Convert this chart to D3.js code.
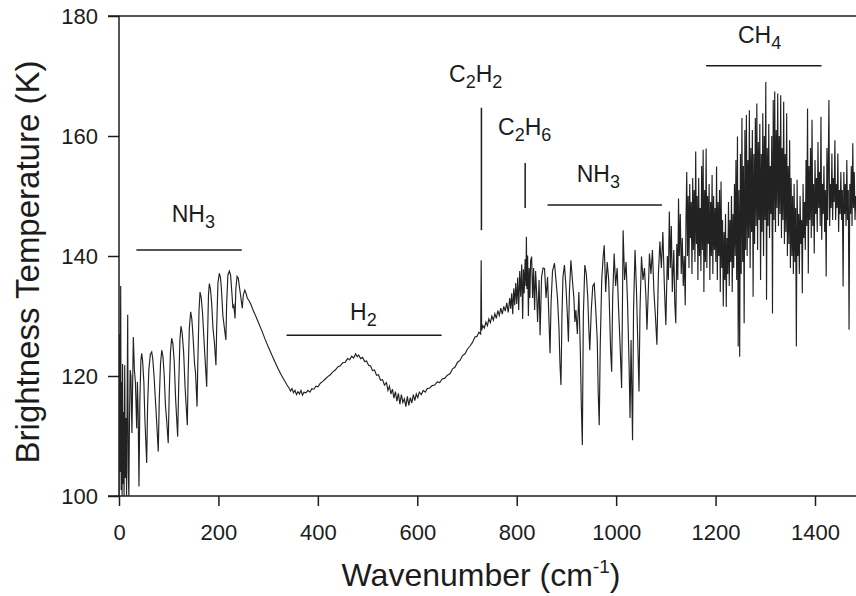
<!DOCTYPE html>
<html>
<head>
<meta charset="utf-8">
<script src="https://cdn.jsdelivr.net/npm/d3@7"></script>
<style>
html, body { margin: 0; padding: 0; background: #fff; }
svg { display: block; }
text { font-family: "Liberation Sans", Arial, Helvetica, sans-serif; fill: #1c1c1c; }
</style>
</head>
<body>
<div id="chart"></div>
<script>
(function() {
    "use strict";

    // [wavenumber cm-1, brightness temperature K]
    var rotationalNH3 = [
        [0,100],[1,127],[2,104],[3.4,135],[4.4,101],[5.3,119],[6.2,100],[7.2,122],[8.2,102],[9.2,114],
        [10.2,100],[11.5,121.8],[12.8,103],[14,113],[15.2,100],[16.5,118],[17.5,130.2],[18.6,104],[19.8,100],
        [21,112],[22.5,121],[24,120],[26,110.5],[28.8,126.5],[31,121],[33,119],[35.6,111.3],[37,119],[38.5,114],
        [40.2,101.6],[42,116],[44,122.5],[45.7,123.8],[47.5,122.5],[50,119],[52,113],[55.7,105.5],[57.5,115],
        [60,121],[63,123.6],[65.8,124],[68,122.8],[70.5,120],[72.5,117],[75,113.5],[79,107.4],[81,116],
        [83.5,122],[86,124.3],[88.5,123.2],[91,120],[93.5,115],[96,112.5],[99,108.8],[101,117],[103.5,124],
        [106,126.3],[108.5,125.3],[111,122.5],[114,116],[118,109.9],[120,118],[122.5,126],[124.7,128.3],
        [127,127.2],[130,124],[133,118],[137.4,111.8],[139,120],[141.5,128],[144.2,130.7],[146.5,129.5],
        [149,126.5],[152,122],[154,120.5],[157,114.9],[158.5,122],[161,131],[163,134],[165.5,133],[168,130.5],
        [171,126],[173,123],[176.4,118.2],[178,126],[180,133.5],[181.7,135.4],[184,134.5],[186.5,132],
        [189,128],[192,125.5],[195,121.8],[196.5,128],[199,135.5],[201.8,137.1],[204,136.5],[206,134.5],
        [209,130],[212,128],[215,126],[216.5,132],[219,136.8],[222,137.5],[224.5,136.8],[226.5,134.5],
        [229,131.5],[231,131.8],[233.4,129.6],[235,134.5],[237.5,136.6],[240,136.3],[242,135],[244.5,133.5],
        [246,132.5],[248,131.3],[250,133.5],[253,134.3],[255.5,133.8],[258,133]
    ];

    var h2Continuum = [
        [262,132.5],[266,131.8],[270,130.9],[275,130.0],[280,129.0],[287,127.6],[294,126.1],[300,124.9],
        [307,123.6],[314,122.3],[320,121.2],[327,120.1],[333,119.2],[338,118.5],[342,118.0],[345,117.5],
        [348,117.9],[351,117.2],[354,117.6],[357,116.9],[360,117.4],[363,117.0],[366,117.6],[369,116.8],
        [372,117.3],[376,117.2],[380,117.6],[384,117.3],[388,117.9],[392,117.8],[396,118.3],[400,118.2],
        [405,118.8],[410,119.1],[415,119.5],[420,119.9],[425,120.2],[430,120.7],[435,121.0],[440,121.5],
        [445,121.7],[450,122.2],[455,122.3],[460,122.9],[464,122.7],[468,123.3],[472,123.0],[476,123.7],
        [479,123.2],[482,123.5],[486,122.9],[490,123.1],[494,122.4],[498,122.5],[502,121.8],[506,121.7],
        [510,120.9],[514,121.0],[518,120.1],[522,120.2],[526,119.3],[530,119.4],[534,118.5],[538,118.9],
        [541,117.6],[544,118.3],[547,117.0],[550,117.8],[553,116.3],[556,117.4],[559,115.8],[562,117.1],
        [565,115.3],[568,116.9],[571,115.6],[574,116.2],[577,114.9],[580,116.6],[583,115.1],[586,116.4],
        [589,115.5],[592,116.9],[595,115.9],[598,117.0],[601,116.4],[604,117.3],[608,116.9],[612,117.6],
        [616,117.3],[620,117.9],[625,118.0],[630,118.4],[635,118.5],[640,119.0],[645,118.9],[650,119.5],
        [655,119.6],[660,120.1],[666,120.4],[671,121.2],[676,121.5],[681,122.3],[686,122.6],[691,123.4],
        [696,123.7],[701,124.5],[706,125.0],[711,125.6],[716,126.5],[720,126.6],[724,127.3],[727.5,127.0]
    ];

    var hydrocarbons = [
        [728.5,139.3],[729.5,127.6],[732,128.4],[735,128.0],[738,129.0],[741,128.4],[744,129.5],[747,128.9],
        [750,130.0],[753,129.3],[756,130.4],[759,129.6],[762,130.9],[765,130.1],[768,131.3],[771,130.3],
        [774,131.6],[777,130.8],[780,132.2],[783,130.6],[786,133.0],[788,131.2],[790,133.8],[792,130.3],
        [794,134.6],[796,131.8],[798,135.5],[800,132.0],[802,136.4],[804,131.0],[806,137.5],[808,133.2],
        [810,138.6],[812,129.5],[813.5,137.8],[815,133.8],[817,139.5],[818.5,135.0],[819.5,143.2],
        [820.5,134.5],[822,140.1],[823.5,130.0],[825,138.0],[826.5,133.0],[828,139.2]
    ];

    var nu2NH3 = [
        [830,139.9],[832,133],[834,138],[836,131],[838,137.5],[840,134],[842,129],[845,136],[847,126.8],
        [850,136.5],[853,138],[856,137.9],[859,133],[862,136.5],[865,129],[867,123.8],[869,132],[872,137.5],
        [876,138.8],[879,136],[882,133],[885,128],[887,122],[889,118.5],[891,130],[893,136.5],[896,138.5],
        [899,135],[902,130],[904,125.7],[906,134],[909,139.3],[912,136],[915,133],[917,129],[919,131],
        [922,127],[925,134],[928,124],[930,115],[932,108.5],[934,130],[937,138.5],[940,137],[943,133],
        [945,128],[947,124.3],[950,131],[953,135],[956,135.4],[959,131],[962,126],[964,117],[966,111.8],
        [968,125],[971,136],[974,140],[976,141.8],[979,134],[982,139],[985,136],[987,130],[989,124],
        [991,120.7],[993,133],[996,140.4],[999,135],[1002,138],[1005,131],[1008,125],[1011,118],[1012.5,130],
        [1014,144.3],[1017,136],[1020,139],[1023,132],[1026,122],[1028,113],[1030,126],[1033,109.3],
        [1035,131],[1038,141],[1041,134],[1044,124],[1046,117.4],[1048,131],[1051,139.9],[1054,136],
        [1057,138],[1060,133],[1062,127.7],[1065,135],[1067,140.4],[1070,137],[1073,141],[1076,134],
        [1079,130],[1082,125.2],[1085,137],[1088,142.4],[1091,138],[1094,144],[1097,135],[1100,128.5],
        [1103,140],[1105,136],[1107,147.4],[1109,138],[1111,145],[1113,134],[1116,141],[1118,132],
        [1120,128.8],[1122,142],[1124,136],[1125.5,149.6],[1127,140],[1129,147],[1131,137],[1133,143],
        [1135,135],[1137,140],[1139,131.8],[1140.5,146]
    ];

    var methane = [
        [1142,154],[1143.5,140],[1145,150],[1146.5,138],[1148,152],[1149.5,143],[1151,149],[1152.5,137],
        [1154,153],[1155.5,141],[1157,151],[1158.5,139],[1160,157.4],[1161.5,142],[1163,150],[1164.5,136],
        [1166,153],[1167.5,140],[1169,148],[1170.5,137.5],[1172,155],[1173.5,141],[1175,157.7],[1176.5,134],
        [1178,151],[1179.5,139],[1181,157.9],[1182.5,138],[1184,150],[1185.5,142],[1187,152],[1188.5,136],
        [1190,149],[1191.5,140],[1193,153.5],[1194.5,137],[1196,150],[1197.5,141],[1199,148],[1200.5,139],
        [1202,154.9],[1203.5,136],[1205,149],[1206.5,140],[1208,151],[1209.5,134],[1211,152.4],[1212.5,138],
        [1214,146],[1215.5,131.6],[1217,144],[1218.5,136],[1220,147],[1221.5,131.5],[1223,143],[1224.5,137],
        [1226,149],[1227.5,135],[1229,146],[1230.5,139],[1232,150],[1233.5,134],[1235,147],[1236.5,138],
        [1238,152],[1239.5,140],[1241,156],[1242.5,136],[1244,159.9],[1245.5,124.9],[1247,151],[1248.5,123.2],
        [1250,157],[1251.5,137],[1253,163],[1254.5,139],[1256,155],[1257.5,128.8],[1259,161],[1260.5,141],
        [1262,163.5],[1263.5,140],[1265,156],[1266.5,143],[1268,164.3],[1269.5,138],[1271,158],[1272.5,144],
        [1274,161],[1275.5,133.2],[1277,157],[1278.5,142],[1280,163],[1281.5,145],[1283,165.4],[1284.5,141],
        [1286,159],[1287.5,146],[1289,162],[1290.5,136],[1292,157],[1293.5,144],[1295,163.8],[1296.5,140],
        [1298,160],[1299.5,146],[1301,169],[1302.5,132.7],[1304,158],[1305.5,145],[1307,162],[1308.5,143],
        [1310,155],[1311.5,147],[1313,160],[1314.5,130.4],[1316,166],[1317.5,146],[1319,167.4],[1320.5,144],
        [1322,161],[1323.5,148],[1325,167.1],[1326.5,145],[1328,160],[1329.5,147],[1331,166.8],[1332.5,143],
        [1334,158],[1335.5,146],[1337,165.7],[1338.5,142],[1340,157],[1341.5,144],[1343,163.8],[1344.5,140],
        [1346,155],[1347.5,142],[1349,159.3],[1350.5,138],[1352,153],[1353.5,140],[1355,150],[1356.5,137],
        [1358,152],[1359.5,139],[1361,148],[1362.5,124.9],[1364,152.7],[1365.5,140],[1367,147],[1368.5,137],
        [1370,150],[1371.5,142],[1373,146],[1374.5,133.8],[1376,152],[1377.5,143],[1379,149],[1380.5,141],
        [1382,156],[1383.5,145],[1385,164.6],[1386.5,137.1],[1388,155],[1389.5,146],[1391,158],[1392.5,143],
        [1394,162.7],[1395.5,145],[1397,152],[1398.5,140.4],[1400,156],[1401.5,147],[1403,153],[1404.5,144],
        [1406,159],[1407.5,148],[1409,154],[1410.5,145],[1412,163.2],[1413.5,142.7],[1415,152],[1416.5,147],
        [1418,155],[1419.5,144],[1421,151],[1422.5,136.6],[1424,158],[1425.5,146],[1428,166],[1429.5,145],
        [1431,152],[1432.5,148],[1434,157.1],[1435.5,146],[1437,153],[1438.5,149],[1440,159.3],[1441.5,146],
        [1443,152],[1444.5,148],[1446,157.1],[1447.5,144],[1449,151],[1450.5,147],[1452,154],[1453.5,146],
        [1455,151],[1456.5,134.9],[1458,154],[1459.5,147],[1461,152],[1462.5,145],[1464,156],[1465.5,146],
        [1467,151],[1468.5,127.7],[1470,152],[1471.5,147],[1473,155],[1474.5,145],[1476,158.8],[1477.5,148],
        [1479,154],[1480.5,146],[1482,150],[1484,147]
    ];

    var xTicks = [0, 200, 400, 600, 800, 1000, 1200, 1400];
    var yTicks = [100, 120, 140, 160, 180];

    // band bars: wavenumber range and the temperature they sit at
    var bandNames = [["NH", "3"], ["H", "2"], ["NH", "3"], ["CH", "4"]];
    var bandFrom = [35, 337, 862, 1181];
    var bandTo = [247, 649, 1092, 1413];
    var bandT = [141, 126.8, 148.5, 171.7];

    // single-line markers
    var lineNames = [["C", "2", "H", "2"], ["C", "2", "H", "6"]];
    var lineAt = [729, 817];
    var lineLow = [144.3, 148];
    var lineHigh = [164.7, 155.5];

    var width = 856, height = 596;

    var x = d3.scaleLinear().domain([0, 1400]).range([119, 815]);
    var y = d3.scaleLinear().domain([100, 180]).range([496, 16]);

    // label anchors (start of text, baseline) in data units
    var bandLabelAt = [[106, 145.7], [464.7, 129.3], [920.7, 152.4], [1245, 175.5]];
    var lineLabelAt = [[663.8, 169], [762.4, 160.2]];

    var svg = d3.select("#chart").append("svg")
        .attr("width", width)
        .attr("height", height)
        .attr("viewBox", [0, 0, width, height]);

    svg.append("rect").attr("width", width).attr("height", height).attr("fill", "#fff");

    var ink = "#1c1c1c";
    var left = x(0), right = width, bottom = y(100), top = y(180);

    // frame
    svg.append("line")
        .attr("x1", left - 11).attr("x2", right)
        .attr("y1", top).attr("y2", top)
        .attr("stroke", ink).attr("stroke-width", 1.5);
    svg.append("line")
        .attr("x1", left - 11).attr("x2", right)
        .attr("y1", bottom).attr("y2", bottom)
        .attr("stroke", ink).attr("stroke-width", 1.5);
    svg.append("line")
        .attr("x1", left).attr("x2", left)
        .attr("y1", top).attr("y2", bottom)
        .attr("stroke", ink).attr("stroke-width", 1.5);

    var yAxis = svg.append("g")
        .attr("transform", "translate(" + left + ",0)")
        .call(d3.axisLeft(y).tickValues(yTicks).tickSize(11).tickPadding(10).tickSizeOuter(0));
    yAxis.select(".domain").remove();
    yAxis.selectAll(".tick line").attr("stroke", ink).attr("stroke-width", 1.5);
    yAxis.selectAll(".tick text")
        .attr("fill", ink)
        .style("font-size", "22px")
        .style("font-family", "'Liberation Sans', Arial, sans-serif");

    var xAxis = svg.append("g")
        .attr("transform", "translate(0," + bottom + ")")
        .call(d3.axisBottom(x).tickValues(xTicks).tickFormat(d3.format("d"))
            .tickSize(10).tickPadding(18).tickSizeOuter(0));
    xAxis.select(".domain").remove();
    xAxis.selectAll(".tick line").attr("stroke", ink).attr("stroke-width", 1.5);
    xAxis.selectAll(".tick text")
        .attr("fill", ink)
        .style("font-size", "22px")
        .style("font-family", "'Liberation Sans', Arial, sans-serif");

    // spectrum
    var spectrum = rotationalNH3.concat(h2Continuum, hydrocarbons, nu2NH3, methane);

    svg.append("defs").append("clipPath").attr("id", "plotClip")
        .append("rect")
        .attr("x", left).attr("y", top)
        .attr("width", right - left).attr("height", bottom - top);

    var line = d3.line()
        .x(function(d) { return x(d[0]); })
        .y(function(d) { return y(d[1]); });

    svg.append("path")
        .datum(spectrum)
        .attr("clip-path", "url(#plotClip)")
        .attr("fill", "none")
        .attr("stroke", "#222")
        .attr("stroke-width", 1.15)
        .attr("stroke-linejoin", "miter")
        .attr("d", line);

    // band bars and their labels
    bandNames.forEach(function(parts, i) {
        svg.append("line")
            .attr("x1", x(bandFrom[i])).attr("x2", x(bandTo[i]))
            .attr("y1", y(bandT[i])).attr("y2", y(bandT[i]))
            .attr("stroke", ink).attr("stroke-width", 1.5);
        formula(parts, bandLabelAt[i]);
    });

    lineNames.forEach(function(parts, i) {
        svg.append("line")
            .attr("x1", x(lineAt[i])).attr("x2", x(lineAt[i]))
            .attr("y1", y(lineLow[i])).attr("y2", y(lineHigh[i]))
            .attr("stroke", ink).attr("stroke-width", 1.5);
        formula(parts, lineLabelAt[i]);
    });

    // chemical formula: even parts normal, odd parts subscript
    function formula(parts, at) {
        var t = svg.append("text")
            .attr("x", x(at[0]))
            .attr("y", y(at[1]))
            .style("font-size", "23px");
        parts.forEach(function(p, k) {
            var s = t.append("tspan").text(p);
            if (k % 2 === 1) {
                s.style("font-size", "18px").attr("dy", 6);
            } else if (k > 0) {
                s.attr("dy", -6);
            }
        });
    }

    // axis titles
    var xt = svg.append("text")
        .attr("x", 481)
        .attr("y", 586)
        .attr("text-anchor", "middle")
        .style("font-size", "32px")
        .text("Wavenumber (cm");
    xt.append("tspan").attr("dy", -13).style("font-size", "19px").text("-1");
    xt.append("tspan").attr("dy", 13).text(")");

    svg.append("text")
        .attr("transform", "translate(39,262) rotate(-90)")
        .attr("text-anchor", "middle")
        .style("font-size", "33px")
        .text("Brightness Temperature (K)");

})();
</script>
</body>
</html>
